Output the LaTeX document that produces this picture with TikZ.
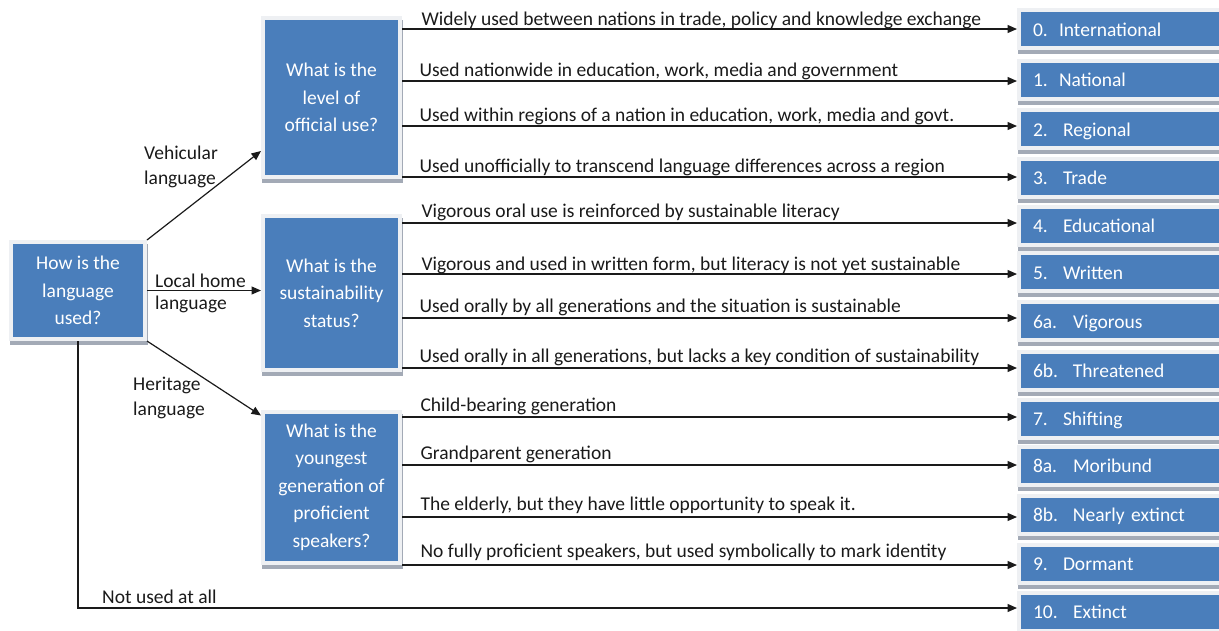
\documentclass[tikz,border=0pt]{standalone}
\usepackage{fontspec}
\setmainfont{Carlito}
\usetikzlibrary{arrows.meta,shadows}
\definecolor{boxblue}{HTML}{4A7EBB}
\definecolor{boxframe}{HTML}{EEF0F3}
\definecolor{boxshadow}{HTML}{A3AAB6}
\definecolor{ink}{HTML}{1A1A1A}
% level label: number in a fixed-width slot, then the name
\newcommand{\lvl}[3]{\makebox[#2pt][l]{#1}#3}
\begin{document}
\begin{tikzpicture}[x=1pt,y=-1pt,
  every node/.style={font=\fontsize{19.5}{27.5}\selectfont},
  blue box/.style={fill=boxblue, draw=boxframe, line width=4pt, text=white,
    general shadow={fill=boxshadow, draw=boxshadow, line width=4pt,
      shadow xshift=1pt, shadow yshift=-4pt}},
  question/.style={blue box, align=center, minimum width=137pt, inner sep=0pt},
  level/.style={blue box, anchor=west, minimum width=230pt, minimum height=38pt,
    text width=202pt, align=left, inner xsep=14pt, inner ysep=0pt,
    text height=16pt, text depth=2pt},
  arr/.style={draw=ink, line width=1.2pt, -{Triangle[length=9.5pt,width=8pt]}},
  choice/.style={anchor=base west, text=ink, inner sep=0pt},
  branch/.style={anchor=west, align=left, text=ink, inner sep=0pt},
]
\useasboundingbox (0,0) rectangle (1219,630);

% question boxes
\node[question, minimum width=134pt, minimum height=97pt] (use) at (78,290.5)
  {How is the\\language\\used?};
\node[question, minimum height=159pt] (official) at (331.5,97.5)
  {What is the\\level of\\official use?};
\node[question, minimum height=154pt] (sustain) at (331.5,293)
  {What is the\\sustainability\\status?};
\node[question, minimum height=151pt] (youngest) at (331.5,487)
  {What is the\\youngest\\generation of\\proficient\\speakers?};

% outcome levels
\node[level] (l0)  at (1017,29)    {\lvl{0.}{26}{International}};
\node[level] (l1)  at (1017,79.5)  {\lvl{1.}{26}{National}};
\node[level] (l2)  at (1017,129)   {\lvl{2.}{30}{Regional}};
\node[level] (l3)  at (1017,177.5) {\lvl{3.}{30}{Trade}};
\node[level] (l4)  at (1017,225.5) {\lvl{4.}{30}{Educational}};
\node[level] (l5)  at (1017,272)   {\lvl{5.}{30}{Written}};
\node[level] (l6a) at (1017,321)   {\lvl{6a.}{40}{Vigorous}};
\node[level] (l6b) at (1017,370.5) {\lvl{6b.}{40}{Threatened}};
\node[level] (l7)  at (1017,418.5) {\lvl{7.}{30}{Shifting}};
\node[level] (l8a) at (1017,465.5) {\lvl{8a.}{40}{Moribund}};
\node[level] (l8b) at (1017,514.5) {\lvl{8b.}{40}{Nearly extinct}};
\node[level] (l9)  at (1017,563.5) {\lvl{9.}{30}{Dormant}};
\node[level] (l10) at (1017,611.5) {\lvl{10.}{40}{Extinct}};

% first question: kind of use
\draw[arr] (use.north east) -- ([yshift=28pt]official.south west);
\draw[arr] (use.east) -- (sustain.west |- use.east);
\draw[arr] (use.south east) -- ([yshift=-6pt]youngest.north west);
\draw[arr] (use.south) |- (l10.west |- 0,608);
\node[branch, font=\fontsize{19.5}{25}\selectfont] (vehicular) at (144,166.5) {Vehicular\\language};
\node[branch, font=\fontsize{19.5}{22}\selectfont] (localhome) at (155,293) {Local home\\language};
\node[branch, font=\fontsize{19.5}{25}\selectfont] (heritage) at (133,397.5) {Heritage\\language};
\node[choice] (notused) at (102,603) {Not used at all};

% level of official use
\draw[arr] (official.east |- 0,29) -- node[choice, at start, xshift=19pt, yshift=4pt]
  {Widely used between nations in trade, policy and knowledge exchange} (l0.west |- 0,29);
\draw[arr] (official.east |- 0,81) -- node[choice, at start, xshift=17pt, yshift=5pt]
  {Used nationwide in education, work, media and government} (l1.west |- 0,81);
\draw[arr] (official.east |- 0,126) -- node[choice, at start, xshift=17pt, yshift=5pt]
  {Used within regions of a nation in education, work, media and govt.} (l2.west |- 0,126);
\draw[arr] (official.east |- 0,177) -- node[choice, at start, xshift=17pt, yshift=5pt]
  {Used unofficially to transcend language differences across a region} (l3.west |- 0,177);

% sustainability status
\draw[arr] (sustain.east |- 0,223) -- node[choice, at start, xshift=19pt, yshift=6pt]
  {Vigorous oral use is reinforced by sustainable literacy} (l4.west |- 0,223);
\draw[arr] (sustain.east |- 0,274) -- node[choice, at start, xshift=19pt, yshift=4pt]
  {Vigorous and used in written form, but literacy is not yet sustainable} (l5.west |- 0,274);
\draw[arr] (sustain.east |- 0,318) -- node[choice, at start, xshift=17pt, yshift=6pt]
  {Used orally by all generations and the situation is sustainable} (l6a.west |- 0,318);
\draw[arr] (sustain.east |- 0,368) -- node[choice, at start, xshift=17pt, yshift=6pt]
  {Used orally in all generations, but lacks a key condition of sustainability} (l6b.west |- 0,368);

% youngest proficient generation
\draw[arr] (youngest.east |- 0,417) -- node[choice, at start, xshift=18pt, yshift=6pt]
  {Child-bearing generation} (l7.west |- 0,417);
\draw[arr] (youngest.east |- 0,465) -- node[choice, at start, xshift=18pt, yshift=6pt]
  {Grandparent generation} (l8a.west |- 0,465);
\draw[arr] (youngest.east |- 0,517) -- node[choice, at start, xshift=18pt, yshift=7pt]
  {The elderly, but they have little opportunity to speak it.} (l8b.west |- 0,517);
\draw[arr] (youngest.east |- 0,565) -- node[choice, at start, xshift=18pt, yshift=8pt]
  {No fully proficient speakers, but used symbolically to mark identity} (l9.west |- 0,565);
\end{tikzpicture}
\end{document}
